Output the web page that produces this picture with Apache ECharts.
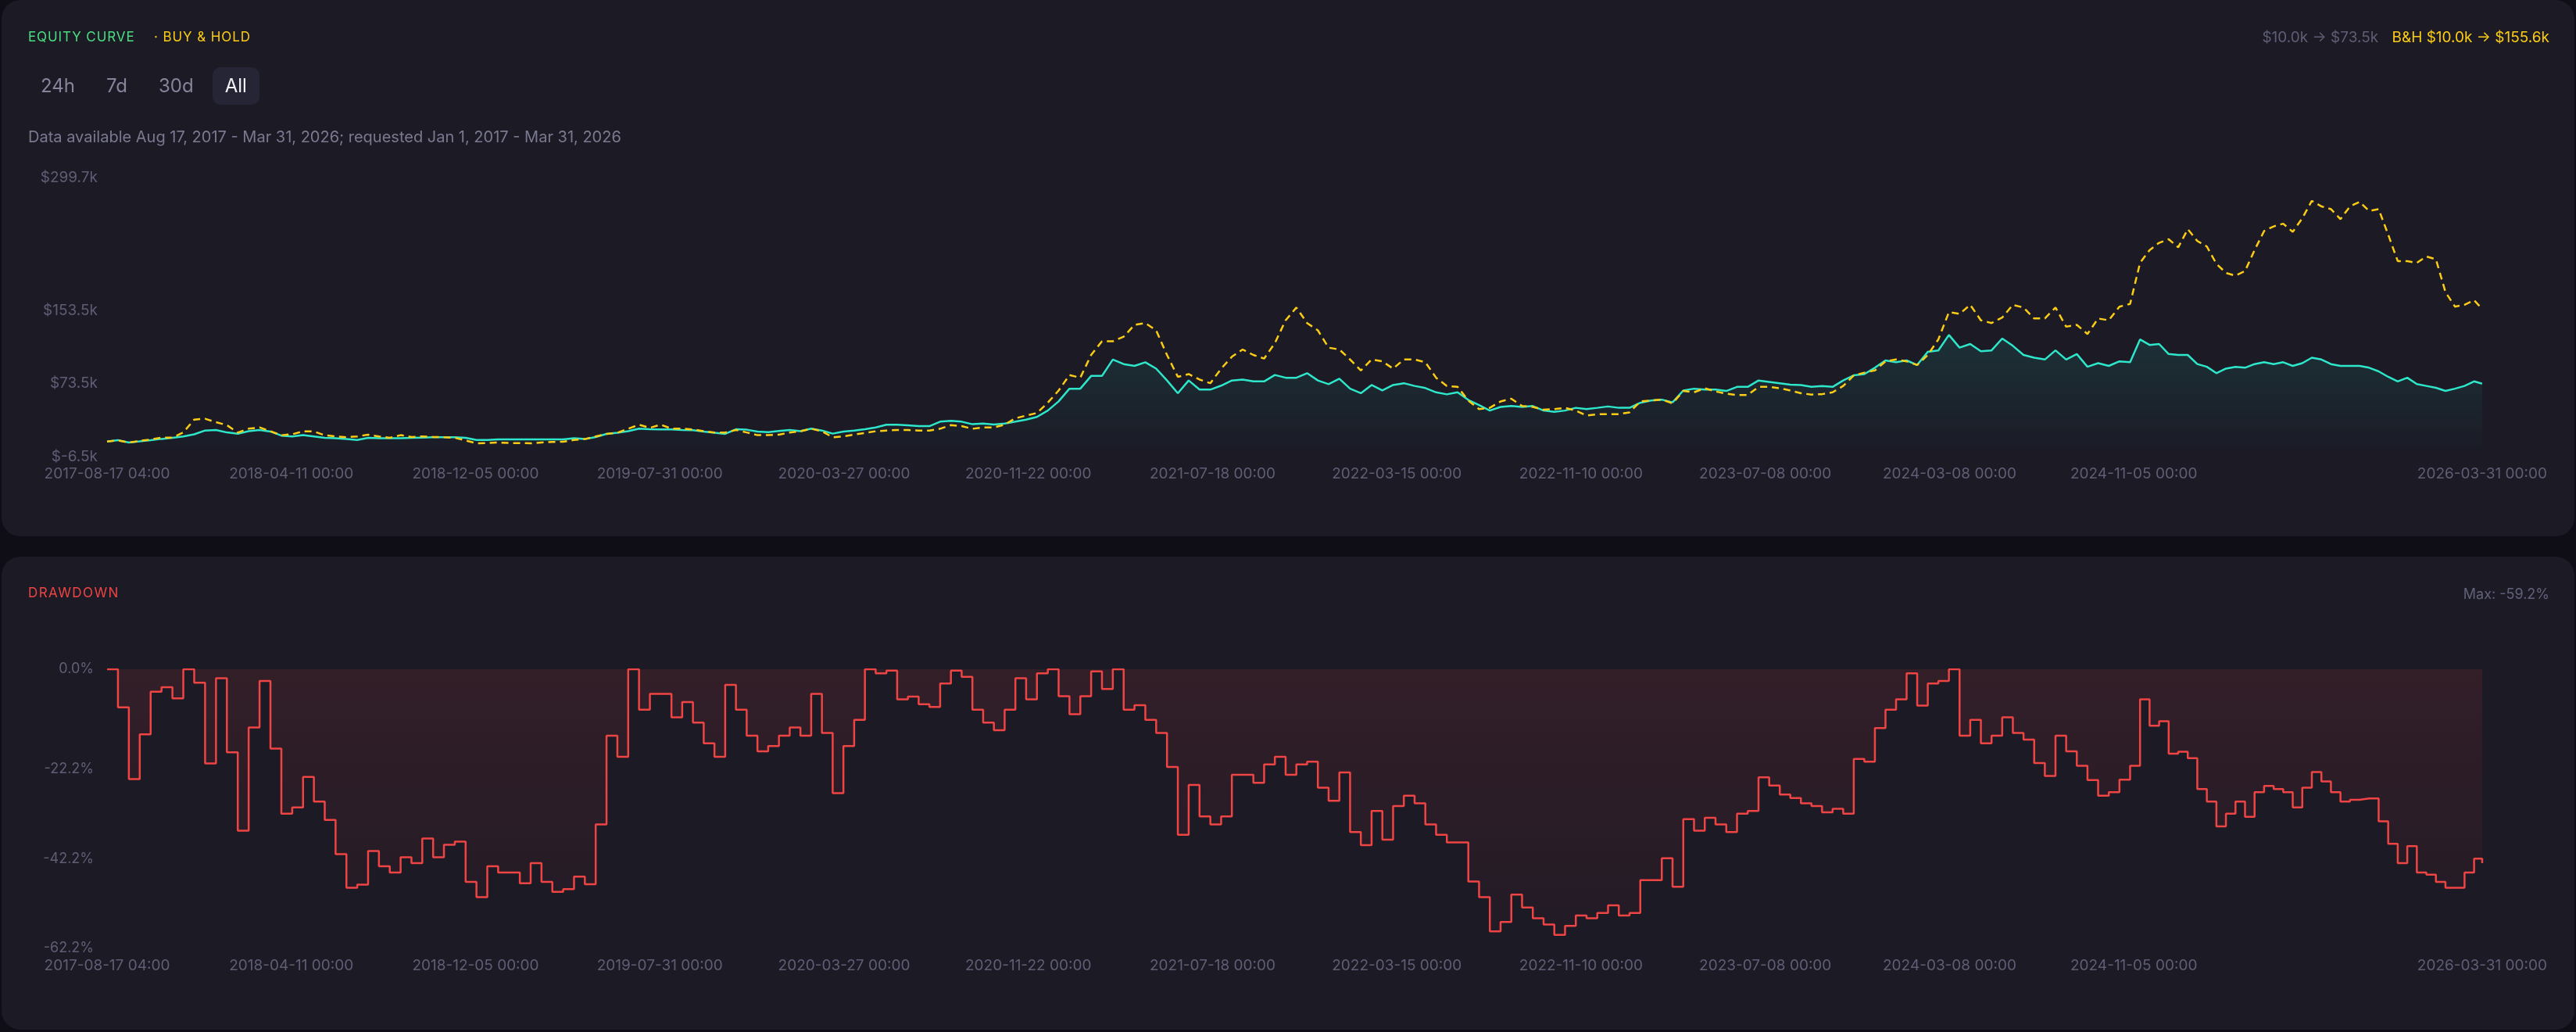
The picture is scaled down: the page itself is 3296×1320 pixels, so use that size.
<!DOCTYPE html>
<html lang="en">
<head>
<meta charset="UTF-8">
<title>Equity Curve</title>
<script src="https://cdn.jsdelivr.net/npm/echarts@6/dist/echarts.min.js"></script>
<style>
  html, body { margin: 0; padding: 0; background: #0f0e16; }
  body { width: 3296px; height: 1320px; position: relative; overflow: hidden; font-family: Inter, 'Noto Sans', sans-serif; }
  .panel { position: absolute; left: 2px; width: 3292px; background: #1b1a25; border-radius: 24px; }
  #panelTop { top: 0; height: 686px; }
  #panelBottom { top: 712px; height: 605px; }
  .chart { position: absolute; left: 34px; width: 3228px; }
  #equity { top: 0; height: 686px; }
  #drawdown { top: 712px; height: 605px; }
  .t { position: absolute; white-space: nowrap; line-height: 1; z-index: 2; }
  .title { font-size: 17px; letter-spacing: 0.9px; }
  .btns { position: absolute; left: 36px; top: 86px; display: flex; gap: 8px; z-index: 2; }
  .btn { height: 48px; line-height: 48px; padding: 0 16px; font-size: 24px; color: #85849b; border-radius: 10px; }
  .btn.on { background: #262535; color: #f2f2f7; }
</style>
</head>
<body>
<div class="panel" id="panelTop"></div>
<div class="panel" id="panelBottom"></div>
<div class="chart" id="equity"></div>
<div class="chart" id="drawdown"></div>

<div class="t title" style="left:36px; top:39px; color:#4ade80;">EQUITY CURVE</div>
<div class="t title" style="left:197px; top:39px; color:#facc15;">· BUY &amp; HOLD</div>
<div class="btns">
  <div class="btn">24h</div>
  <div class="btn">7d</div>
  <div class="btn">30d</div>
  <div class="btn on">All</div>
</div>
<div class="t" style="left:36px; top:165px; font-size:20px; color:#7a798f;">Data available Aug 17, 2017 - Mar 31, 2026; requested Jan 1, 2017 - Mar 31, 2026</div>
<div class="t" style="right:34px; top:38px; font-size:19px;">
  <span style="color:#5f5e75;">$10.0k → $73.5k</span>
  <span style="color:#facc15; margin-left:12px;">B&amp;H $10.0k → $155.6k</span>
</div>
<div class="t title" style="left:36px; top:750px; color:#ef4444; letter-spacing:1.4px;">DRAWDOWN</div>
<div class="t" style="right:34px; top:751px; font-size:18px; color:#62617a;">Max: -59.2%</div>

<script>
    // values, one point every 14 days (last point = end date)
    const startLabel = '2017-08-17 04:00';
    const endLabel = '2026-03-31 00:00';
    const stepDays = 14;

    const tickLabels = ['2017-08-17 04:00', '2018-04-11 00:00', '2018-12-05 00:00', '2019-07-31 00:00',
        '2020-03-27 00:00', '2020-11-22 00:00', '2021-07-18 00:00', '2022-03-15 00:00', '2022-11-10 00:00',
        '2023-07-08 00:00', '2024-03-08 00:00', '2024-11-05 00:00', '2026-03-31 00:00'];

    // bars between two labelled dates (the last stretch has fewer bars per day)
    const barsPerTick = 238;
    const barsLastStretch = 450;

    // strategy equity, $k
    const equity = [
        10.0, 11.6, 9.0, 10.2, 11.5, 12.9, 14.0, 15.6, 17.9, 22.1,
        22.7, 20.0, 18.5, 21.3, 22.7, 21.0, 16.5, 15.6, 17.0, 15.6,
        14.1, 13.6, 12.7, 11.8, 14.1, 13.6, 13.6, 13.6, 14.1, 14.4,
        14.7, 14.7, 14.7, 14.1, 11.8, 11.8, 12.4, 12.4, 12.4, 12.4,
        12.4, 12.4, 12.4, 13.6, 12.7, 15.0, 18.4, 19.6, 21.3, 24.1,
        23.5, 23.3, 23.3, 22.7, 22.4, 20.9, 19.6, 18.4, 23.5, 23.0,
        20.9, 20.3, 21.6, 22.7, 21.3, 24.1, 22.1, 18.7, 20.9, 22.1,
        23.5, 25.5, 28.4, 28.4, 27.8, 26.9, 26.9, 31.8, 32.7, 31.8,
        29.0, 29.8, 28.7, 29.8, 31.8, 34.1, 37.0, 44.0, 54.1, 68.0,
        68.0, 82.0, 82.0, 100.0, 95.0, 93.0, 97.0, 90.0, 77.0, 63.0,
        77.0, 67.0, 67.0, 71.3, 77.0, 78.0, 76.0, 76.0, 83.0, 80.0,
        80.0, 85.0, 77.0, 73.0, 79.0, 68.0, 63.0, 72.0, 66.0, 72.0,
        74.0, 71.0, 68.7, 64.0, 61.8, 64.0, 55.6, 50.0, 44.0, 48.0,
        49.0, 48.0, 49.0, 44.0, 42.7, 44.0, 47.0, 45.6, 47.0, 48.5,
        47.0, 47.0, 52.5, 55.0, 56.0, 53.0, 66.0, 68.0, 67.0, 67.0,
        65.5, 70.0, 70.0, 77.0, 75.5, 74.0, 72.5, 72.0, 70.0, 71.0,
        70.0, 77.0, 82.7, 84.0, 91.0, 99.0, 97.0, 99.0, 94.0, 108.5,
        110.0, 127.0, 113.0, 117.0, 109.0, 110.0, 123.0, 115.0, 105.0, 102.0,
        100.0, 110.0, 100.0, 106.0, 92.0, 96.0, 93.0, 98.0, 97.0, 122.0,
        116.0, 117.0, 106.0, 105.0, 105.0, 95.0, 92.0, 85.0, 90.0, 92.0,
        91.0, 95.0, 97.0, 95.0, 97.0, 93.0, 96.0, 102.0, 100.0, 95.0,
        93.0, 93.0, 93.0, 91.0, 87.0, 81.0, 76.0, 80.0, 73.0, 71.0,
        69.0, 65.5, 68.0, 71.0, 76.0, 73.5
    ];

    // buy & hold, $k
    const buyHold = [
        10.0, 11.2, 9.0, 10.7, 12.2, 14.4, 14.4, 20.0, 34.1, 35.0,
        31.3, 28.0, 19.8, 24.1, 25.5, 21.3, 16.9, 18.0, 21.3, 21.0,
        16.9, 15.6, 14.7, 15.6, 17.6, 15.6, 14.1, 17.0, 15.0, 15.6,
        15.0, 14.7, 14.1, 11.2, 8.0, 8.4, 9.0, 8.4, 8.4, 8.0,
        9.0, 9.6, 9.8, 11.8, 12.7, 15.6, 18.4, 19.6, 24.1, 28.5,
        25.0, 28.5, 24.1, 24.1, 23.3, 21.3, 19.8, 19.8, 22.7, 20.0,
        17.0, 17.0, 17.6, 19.8, 21.3, 24.1, 21.3, 14.7, 15.6, 17.6,
        19.5, 21.3, 22.1, 22.7, 22.7, 22.1, 22.1, 24.1, 28.0, 27.0,
        24.0, 25.5, 25.5, 28.5, 35.5, 38.5, 41.3, 52.6, 66.0, 83.0,
        80.0, 105.0, 120.0, 120.0, 125.0, 138.0, 140.0, 132.0, 105.0, 81.0,
        84.0, 78.0, 74.0, 90.0, 103.0, 111.0, 105.0, 101.0, 118.0, 143.0,
        157.0, 140.0, 132.0, 113.0, 111.0, 100.0, 88.0, 100.0, 98.0, 90.0,
        100.0, 100.0, 97.0, 80.0, 71.0, 70.0, 55.0, 45.6, 47.0, 54.0,
        57.0, 49.0, 48.0, 45.0, 45.6, 47.0, 44.0, 38.5, 40.0, 40.0,
        40.0, 42.0, 54.0, 55.0, 56.0, 52.0, 65.5, 64.0, 68.5, 65.0,
        62.5, 61.0, 61.0, 70.0, 70.0, 68.5, 66.0, 63.0, 61.5, 62.0,
        64.0, 71.0, 82.5, 85.6, 88.0, 98.0, 100.0, 98.0, 94.0, 105.0,
        122.0, 152.0, 150.0, 160.0, 143.0, 140.0, 146.0, 160.0, 157.0, 145.0,
        145.0, 157.0, 136.0, 138.0, 128.0, 145.0, 143.0, 158.0, 161.0, 206.0,
        220.0, 228.0, 232.0, 223.0, 243.0, 230.0, 224.0, 205.0, 195.0, 192.0,
        197.0, 220.0, 241.0, 246.0, 249.0, 240.0, 255.0, 274.0, 268.0, 265.0,
        254.0, 268.0, 273.0, 263.0, 265.0, 237.0, 208.0, 208.0, 206.0, 213.0,
        210.0, 174.0, 158.0, 160.0, 165.0, 155.6
    ];

    // drawdown of the strategy, %
    const drawdown = [
        0, -8.5, -24.5, -14.5, -5, -4, -6.5, 0, -3, -21,
        -2, -18.5, -36, -13, -2.6, -17.7, -32.2, -30.8, -24, -29.5,
        -33.6, -41.2, -48.7, -48, -40.5, -43.9, -45.3, -41.9, -43.2, -37.7,
        -41.9, -39.1, -38.4, -47.4, -50.8, -43.9, -45.3, -45.3, -47.7, -43.2,
        -47.4, -49.6, -49, -46.2, -47.9, -34.6, -14.8, -19.5, 0, -9,
        -5.5, -5.5, -10.7, -7.3, -11.9, -16.5, -19.5, -3.5, -9, -14.8,
        -18.3, -17.1, -14.8, -13, -14.8, -5.5, -14.2, -27.6, -17.1, -11.3,
        0, -0.9, -0.3, -6.7, -6.1, -7.8, -8.4, -3.2, -0.3, -1.7,
        -9, -11.9, -13.6, -9, -2, -6.7, -0.9, 0, -6, -10,
        -6, -0.5, -4.4, 0, -9, -8, -11.3, -14.2, -21.8, -36.9,
        -25.8, -32.8, -34.6, -32.8, -23.5, -23.5, -25.3, -21.2, -19.5, -23.5,
        -21.2, -20.6, -26.4, -29.3, -23, -36.3, -39.2, -31.6, -38, -30.5,
        -28.2, -29.9, -34.6, -36.9, -38.6, -38.6, -47.3, -50.8, -58.4, -56.3,
        -50.2, -53.1, -55.5, -56.9, -59.2, -57.2, -54.9, -55.5, -54.3, -52.6,
        -54.9, -54.3, -47, -47, -42.1, -48.5, -33.4, -36, -33.1, -34.6,
        -36.3, -32.2, -31.6, -24.1, -25.9, -27.9, -28.7, -29.9, -30.5, -31.9,
        -31.1, -32.2, -20, -20.6, -13.1, -9, -6.7, -0.9, -8.1, -3.2,
        -2.6, 0, -14.8, -11.3, -16.5, -14.8, -10.7, -14.2, -15.7, -20.9,
        -23.8, -14.8, -18.3, -21.5, -24.7, -28.2, -27.4, -24.6, -21.5, -6.7,
        -12.6, -11.6, -18.8, -18.4, -19.8, -26.7, -29.5, -35, -32.2, -29.5,
        -32.9, -27.4, -26, -26.7, -27.4, -30.8, -26.4, -22.9, -25, -27.4,
        -29.5, -29.1, -28.8, -28.8, -33.9, -38.9, -43.2, -39.4, -45.3, -45.8,
        -47.4, -48.7, -48.7, -45.3, -42.2, -43.2
    ];

    const equityTicks = [-6.5, 73.5, 153.5, 299.7];
    const drawdownTicks = [-62.2, -42.2, -22.2, 0];

    function parseStamp(s) {
        const [d, t] = s.split(' ');
        const [y, m, day] = d.split('-').map(Number);
        const [hh, mm] = t.split(':').map(Number);
        return Date.UTC(y, m - 1, day, hh, mm);
    }

    const startTs = parseStamp(startLabel);
    const endTs = parseStamp(endLabel);
    const dayMs = 24 * 3600 * 1000;
    const n = equity.length;
    let dates = [];
    for (let i = 0; i < n; i++) {
        dates.push(i === n - 1 ? endTs : startTs + i * stepDays * dayMs);
    }

    // bar index of each labelled date, and bar position of any date between them
    const tickTs = tickLabels.map(parseStamp);
    let tickBar = tickTs.map((t, k) => k * barsPerTick);
    tickBar[tickBar.length - 1] = tickBar[tickBar.length - 2] + barsLastStretch;

    function barOf(ts) {
        for (let k = 0; k < tickTs.length - 1; k++) {
            if (ts <= tickTs[k + 1] || k === tickTs.length - 2) {
                const f = (ts - tickTs[k]) / (tickTs[k + 1] - tickTs[k]);
                return tickBar[k] + f * (tickBar[k + 1] - tickBar[k]);
            }
        }
        return 0;
    }
    const bars = dates.map(barOf);

    function tickName(v) {
        for (let i = 0; i < tickBar.length; i++) {
            if (Math.abs(tickBar[i] - v) < 0.01) return tickLabels[i];
        }
        return '';
    }

    const muted = '#5f5e75';
    const font = 'Inter';

    function xAxis() {
        return {
            type: 'value',
            min: 0,
            max: tickBar[tickBar.length - 1],
            axisLine: { show: false },
            axisTick: { show: false },
            splitLine: { show: false },
            axisLabel: {
                customValues: tickBar,
                formatter: v => tickName(v),
                color: muted,
                fontSize: 19,
                fontFamily: font,
                margin: 13
            }
        };
    }

    const equityChart = echarts.init(document.getElementById('equity'));
    equityChart.setOption({
        animation: false,
        grid: { left: 103, top: 227, width: 3113, height: 357 },
        xAxis: xAxis(),
        yAxis: {
            type: 'value',
            min: equityTicks[0],
            max: equityTicks[equityTicks.length - 1],
            splitLine: { show: false },
            axisLine: { show: false },
            axisTick: { show: false },
            axisLabel: {
                customValues: equityTicks,
                formatter: v => '$' + v.toFixed(1) + 'k',
                color: muted,
                fontSize: 19,
                fontFamily: font,
                margin: 12
            }
        },
        series: [
            {
                name: 'Equity',
                type: 'line',
                data: bars.map((b, i) => [b, equity[i]]),
                showSymbol: false,
                lineStyle: { color: '#2ee6ca', width: 2.5 },
                itemStyle: { color: '#2ee6ca' },
                areaStyle: {
                    color: new echarts.graphic.LinearGradient(0, 0, 0, 1, [
                        { offset: 0, color: 'rgba(46,230,202,0.17)' },
                        { offset: 1, color: 'rgba(46,230,202,0.01)' }
                    ])
                }
            },
            {
                name: 'Buy & Hold',
                type: 'line',
                data: bars.map((b, i) => [b, buyHold[i]]),
                showSymbol: false,
                lineStyle: { color: '#facc15', width: 2.5, type: [9, 6] },
                itemStyle: { color: '#facc15' }
            }
        ]
    });

    const ddChart = echarts.init(document.getElementById('drawdown'));
    ddChart.setOption({
        animation: false,
        grid: { left: 103, top: 144, width: 3113, height: 357 },
        xAxis: xAxis(),
        yAxis: {
            type: 'value',
            min: drawdownTicks[0],
            max: 0,
            splitLine: { show: false },
            axisLine: { show: false },
            axisTick: { show: false },
            axisLabel: {
                customValues: drawdownTicks,
                formatter: v => v.toFixed(1) + '%',
                color: muted,
                fontSize: 18,
                fontFamily: font,
                margin: 17
            }
        },
        series: [{
            name: 'Drawdown',
            type: 'line',
            step: 'end',
            data: bars.map((b, i) => [b, drawdown[i]]),
            showSymbol: false,
            lineStyle: { color: '#ef4444', width: 2.5 },
            itemStyle: { color: '#ef4444' },
            areaStyle: {
                color: new echarts.graphic.LinearGradient(0, 0, 0, 1, [
                    { offset: 0, color: 'rgba(239,68,68,0.16)' },
                    { offset: 1, color: 'rgba(239,68,68,0.05)' }
                ])
            }
        }]
    });
</script>
</body>
</html>
